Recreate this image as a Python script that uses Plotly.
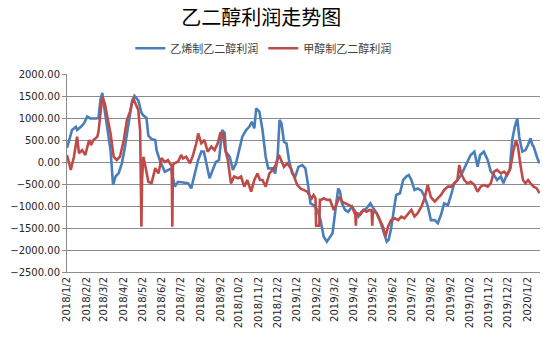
import pandas as pd
import plotly.graph_objects as go

# Trading-day offsets (days after 2018-01-02) and profit values, CNY/t
start_date = "2018-01-02"

ethylene_days = [0, 8, 14, 16, 22, 27, 32, 37, 45, 50, 53, 56, 58, 63, 69, 73, 77, 82, 87, 92,
                 98, 103, 107, 113, 118, 121, 126, 129, 134, 140, 142, 147, 155, 160, 165, 171, 176, 187, 192, 197,
                 202, 208, 213, 217, 221, 226, 231, 236, 241, 246, 250, 252, 258, 263, 268, 273, 278, 284, 289, 293,
                 297, 300, 305, 310, 315, 319, 326, 330, 334, 337, 340, 344, 348, 352, 357, 362, 367, 373, 378, 382,
                 386, 391, 397, 402, 407, 412, 417, 421, 425, 430, 433, 436, 441, 446, 452, 457, 462, 467, 475, 481,
                 486, 491, 496, 501, 507, 510, 514, 519, 522, 528, 533, 538, 542, 546, 551, 556, 562, 567, 572, 577,
                 583, 588, 593, 598, 604, 609, 614, 619, 625, 630, 635, 640, 646, 651, 655, 661, 667, 672, 677, 682,
                 688, 692, 697, 702, 706, 710, 714, 717, 722, 727, 731, 735, 738, 740, 745, 749]
ethylene_profit = [318, 727, 800, 727, 800, 880, 1030, 990, 990, 1000, 1410, 1570, 1340, 880, 270, -520, -330, -250, -30, 350,
                   880, 1370, 1500, 1400, 1120, 1060, 1000, 600, 520, 500, 270, 45, -220, -180, -150, -560, -450, -470, -480, -600,
                   -330, 45, 235, 235, -30, -370, -180, 0, 45, 727, 660, 235, 120, -180, -30, 270, 575, 727, 800, 915,
                   765, 1220, 1145, 727, 120, -145, -145, -260, 120, 955, 880, 460, 425, 45, -260, -330, -110, -70, -145, -500,
                   -940, -980, -1090, -1320, -1700, -1810, -1700, -1620, -1165, -600, -675, -940, -1090, -1130, -1015, -1130, -1240, -1130, -1050, -940,
                   -1050, -1165, -1320, -1545, -1810, -1770, -1505, -1015, -750, -710, -410, -330, -295, -410, -635, -600, -650, -790, -1000, -1320,
                   -1320, -1390, -1200, -940, -980, -750, -485, -410, -295, -145, 5, 160, 235, -110, 160, 235, 45, -220, -295, -410,
                   -330, -485, -295, -180, 500, 800, 990, 575, 235, 270, 385, 540, 385, 350, 120, -30]

methanol_days = [0, 6, 11, 16, 19, 24, 29, 35, 38, 42, 48, 50, 53, 56, 60, 63, 69, 74, 79, 84,
                 90, 95, 100, 105, 109, 113, 116, 117, 118, 119, 121, 123, 129, 134, 140, 145, 150, 155, 160, 165,
                 166, 167, 168, 170, 176, 181, 184, 189, 195, 200, 205, 208, 213, 218, 223, 229, 234, 239, 243, 247,
                 251, 255, 260, 265, 271, 276, 281, 286, 292, 297, 302, 306, 310, 315, 321, 326, 331, 336, 340, 344,
                 349, 355, 360, 365, 370, 376, 381, 384, 388, 391, 394, 395, 396, 400, 401, 403, 407, 412, 417, 423,
                 428, 432, 436, 441, 446, 452, 456, 457, 458, 459, 461, 465, 470, 475, 480, 483, 484, 485, 487, 491,
                 496, 501, 505, 509, 514, 520, 525, 530, 535, 541, 546, 551, 556, 562, 567, 572, 577, 583, 588, 593,
                 598, 604, 609, 614, 619, 622, 625, 630, 635, 640, 646, 651, 656, 661, 667, 672, 677, 682, 688, 693,
                 698, 703, 708, 712, 715, 719, 723, 727, 731, 735, 740, 745, 749]
methanol_profit = [160, -180, 120, 575, 200, 270, 160, 500, 385, 500, 575, 690, 1100, 1485, 1330, 1100, 650, 120, 45, 120,
                   500, 955, 1145, 1450, 1330, 1180, 700, -410, -1470, -410, 120, 0, -450, -480, -140, -260, 90, 0, 45, -70,
                   -70, -1470, -70, -30, 5, 160, 80, 120, -30, 160, 425, 650, 425, 500, 235, 350, 270, 425, 650, 650,
                   270, 45, -485, -330, -370, -330, -560, -410, -675, -410, -260, -410, -410, -560, -260, -180, -70, 160, 5, -110,
                   -30, -145, -330, -520, -600, -635, -675, -750, -825, -750, -820, -1450, -1450, -1450, -860, -860, -825, -860, -860, -1090,
                   -940, -790, -900, -940, -980, -1015, -1165, -1165, -1450, -1165, -1165, -1200, -1090, -1130, -1090, -1100, -1450, -1130, -1130, -1165,
                   -1320, -1470, -1700, -1470, -1320, -1280, -1320, -1240, -1280, -1165, -1090, -1240, -1165, -1015, -825, -520, -800, -900, -825, -750,
                   -635, -560, -560, -485, -410, -70, -260, -410, -485, -450, -520, -675, -560, -520, -560, -485, -220, -180, -260, -220,
                   -295, -145, 270, 500, 350, -70, -410, -485, -410, -485, -560, -600, -710]

tick_labels = ["2018/1/2", "2018/2/2", "2018/3/2", "2018/4/2", "2018/5/2", "2018/6/2", "2018/7/2",
               "2018/8/2", "2018/9/2", "2018/10/2", "2018/11/2", "2018/12/2", "2019/1/2", "2019/2/2",
               "2019/3/2", "2019/4/2", "2019/5/2", "2019/6/2", "2019/7/2", "2019/8/2", "2019/9/2",
               "2019/10/2", "2019/11/2", "2019/12/2", "2020/1/2"]

series_names = ["乙烯制乙二醇利润", "甲醇制乙二醇利润"]
series_colors = ["#4A7EBB", "#BE4B48"]

base = pd.Timestamp(start_date)
ethylene_dates = base + pd.to_timedelta(ethylene_days, unit="D")
methanol_dates = base + pd.to_timedelta(methanol_days, unit="D")
tick_dates = pd.to_datetime(tick_labels, format="%Y/%m/%d")

fig = go.Figure()
fig.add_trace(go.Scatter(x=ethylene_dates, y=ethylene_profit, mode="lines", name=series_names[0],
                         line=dict(color=series_colors[0], width=2.6)))
fig.add_trace(go.Scatter(x=methanol_dates, y=methanol_profit, mode="lines", name=series_names[1],
                         line=dict(color=series_colors[1], width=2.6)))

axis_font = dict(family="DejaVu Sans", size=10, color="#262626")

fig.update_layout(
    width=550, height=342,
    margin=dict(l=63, r=10, t=74, b=70),
    paper_bgcolor="white", plot_bgcolor="white",
    title=dict(text="乙二醇利润走势图", x=0.475, xanchor="center", y=0.947, yanchor="middle",
               font=dict(family="Noto Sans CJK SC", size=20, color="#000000")),
    legend=dict(orientation="h", x=0.415, xanchor="center", y=1.13, yanchor="middle",
                font=dict(family="Noto Sans CJK SC", size=11, color="#404040"),
                itemwidth=30, bgcolor="rgba(0,0,0,0)"),
    showlegend=True,
)

fig.update_xaxes(
    type="date",
    range=[base, base + pd.Timedelta(days=750)],
    tickvals=tick_dates, ticktext=tick_labels, tickangle=-90,
    tickfont=axis_font,
    showgrid=False, showline=True, linecolor="#8c8c8c", linewidth=1,
    ticks="", zeroline=False,
)

fig.update_yaxes(
    range=[-2500, 2000], dtick=500, tick0=0, tickformat=".2f",
    tickfont=axis_font,
    showgrid=True, gridcolor="#8c8c8c", gridwidth=1,
    showline=True, linecolor="#8c8c8c", linewidth=1,
    ticks="outside", ticklen=4, tickcolor="#8c8c8c",
    zeroline=False,
)

fig.write_html("out.html")
